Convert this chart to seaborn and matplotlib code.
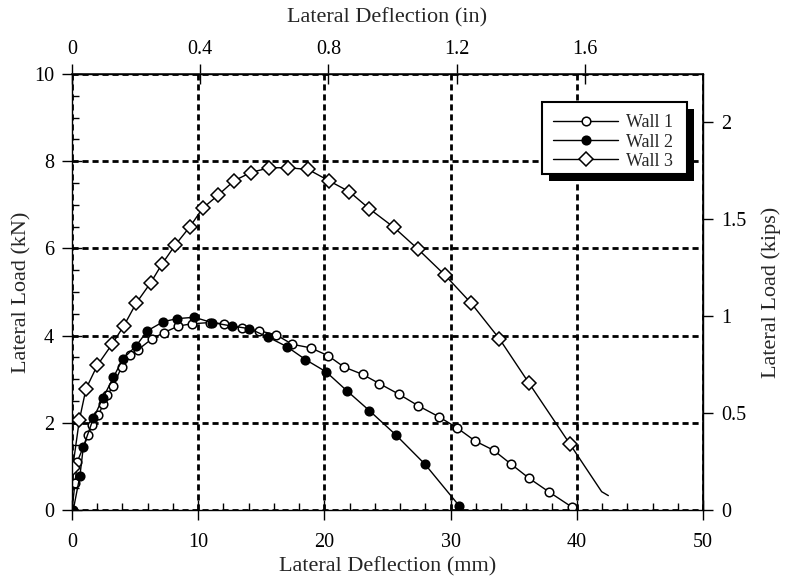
import matplotlib
matplotlib.use("Agg")
import matplotlib.pyplot as plt
from matplotlib.patches import Rectangle
from matplotlib.ticker import MultipleLocator, FixedLocator
import seaborn as sns

# ---- data (mm, kN) ----
wall1_x = [0.0, 0.24, 0.42, 1.29, 1.61, 2.09, 2.48, 2.80, 3.28, 3.94, 4.60, 5.20, 6.31, 7.29,
           8.43, 9.48, 10.94, 12.04, 13.44, 14.82, 16.16, 17.46, 18.90, 20.29, 21.55, 23.03,
           24.35, 25.94, 27.44, 29.06, 30.48, 31.96, 33.41, 34.76, 36.21, 37.82, 39.65]
wall1_y = [0.0, 0.63, 1.11, 1.72, 1.95, 2.18, 2.42, 2.64, 2.85, 3.29, 3.56, 3.67, 3.92, 4.07,
           4.22, 4.27, 4.30, 4.27, 4.17, 4.11, 4.02, 3.80, 3.72, 3.54, 3.28, 3.11,
           2.90, 2.65, 2.39, 2.14, 1.89, 1.58, 1.37, 1.06, 0.73, 0.41, 0.06]

wall2_x = [0.10, 0.63, 0.90, 1.69, 2.43, 3.28, 4.01, 5.07, 5.97, 7.24, 8.35, 9.69, 11.07,
           12.65, 14.05, 15.50, 17.01, 18.50, 20.13, 21.76, 23.56, 25.67, 27.97, 30.67]
wall2_y = [0.00, 0.79, 1.45, 2.10, 2.56, 3.04, 3.46, 3.76, 4.11, 4.32, 4.39, 4.42, 4.30,
           4.22, 4.16, 3.97, 3.75, 3.45, 3.17, 2.74, 2.28, 1.72, 1.05, 0.10]

wall3_x = [0.0, 0.05, 0.58, 1.11, 2.01, 3.17, 4.12, 5.10, 6.23, 7.13, 8.16, 9.35, 10.35,
           11.57, 12.84, 14.16, 15.64, 17.12, 18.72, 20.37, 21.98, 23.56, 25.52, 27.39,
           29.58, 31.64, 33.86, 36.21, 39.46, 41.97, 42.50]
wall3_y = [0.0, 0.96, 2.06, 2.78, 3.32, 3.80, 4.23, 4.75, 5.21, 5.64, 6.07, 6.50, 6.92,
           7.22, 7.55, 7.74, 7.85, 7.85, 7.81, 7.55, 7.30, 6.91, 6.48, 5.99,
           5.38, 4.74, 3.93, 2.91, 1.51, 0.42, 0.33]

labels = ["Wall 1", "Wall 2", "Wall 3"]
x_ticks_in = [0, 0.4, 0.8, 1.2, 1.6]
y_ticks_kips = [0, 0.5, 1, 1.5, 2]

sns.set_theme(style="white")
plt.rcParams['font.family'] = ['Liberation Serif', 'DejaVu Serif']

W, H = 785, 579
fig = plt.figure(figsize=(W / 100, H / 100), dpi=100)
ax = fig.add_axes([72 / W, 69 / H, 631 / W, 436 / H])

common = dict(color="black", linewidth=1.0, markeredgecolor="black",
              markeredgewidth=1.1, sort=False, estimator=None, ax=ax)
sns.lineplot(x=wall1_x, y=wall1_y, marker="o", markersize=6.2, markerfacecolor="white",
             markevery=list(range(1, len(wall1_x))), label=labels[0], **common)
sns.lineplot(x=wall2_x, y=wall2_y, marker="o", markersize=6.2, markerfacecolor="black",
             label=labels[1], **common)
sns.lineplot(x=wall3_x, y=wall3_y, marker="D", markersize=7.0, markerfacecolor="white",
             markevery=list(range(1, len(wall3_x) - 2)), label=labels[2], **common)

ax.set_xlim(0, 50)
ax.set_ylim(0, 10)
ax.xaxis.set_major_locator(MultipleLocator(10))
ax.xaxis.set_minor_locator(MultipleLocator(2))
ax.yaxis.set_major_locator(MultipleLocator(2))
ax.yaxis.set_minor_locator(MultipleLocator(0.5))

ax.grid(True, which="major", color="black", linewidth=2.0, linestyle=(0, (2.2, 1.4)))
ax.set_axisbelow(True)
for s in ax.spines.values():
    s.set_color("black")
    s.set_linewidth(1.0)

ax.tick_params(which="major", direction="inout", length=14, width=1.0, colors="black",
               labelsize=14.5, left=True, bottom=True, pad=6)
ax.tick_params(which="minor", direction="in", length=5, width=1.0, colors="black",
               left=True, bottom=True)
ax.tick_params(axis="x", which="major", pad=9.5)

ax.set_xlabel("Lateral Deflection (mm)", fontsize=16, labelpad=4)
ax.set_ylabel("Lateral Load (kN)", fontsize=16, labelpad=1.5)

# top axis (inches)
top = ax.secondary_xaxis("top", functions=(lambda v: v / 25.4, lambda v: v * 25.4))
top.xaxis.set_major_locator(FixedLocator(x_ticks_in))
top.set_xticklabels([f"{t:g}" for t in x_ticks_in])
top.tick_params(direction="inout", length=14, width=1.0, labelsize=14.5, colors="black", pad=4)
top.set_xlabel("Lateral Deflection (in)", fontsize=16, labelpad=12.5)

# right axis (kips)
right = ax.secondary_yaxis("right", functions=(lambda v: v / 4.448, lambda v: v * 4.448))
right.yaxis.set_major_locator(FixedLocator(y_ticks_kips))
right.set_yticklabels([f"{t:g}" for t in y_ticks_kips])
right.tick_params(direction="out", length=7, width=1.0, labelsize=14.5, colors="black", pad=6)
right.set_ylabel("Lateral Load (kips)", fontsize=16, labelpad=11)

# legend box with solid drop shadow (axes fraction coordinates)
bx0, bx1 = (542 - 72) / 631, (687 - 72) / 631
by0, by1 = (510 - 174) / 436, (510 - 102) / 436
sdx, sdy = 7 / 631, 7 / 436
ax.add_artist(Rectangle((bx0 + sdx, by0 - sdy), bx1 - bx0, by1 - by0, transform=ax.transAxes,
                        facecolor="black", edgecolor="none", zorder=5.8, clip_on=False))
ax.add_artist(Rectangle((bx0, by0), bx1 - bx0, by1 - by0, transform=ax.transAxes,
                        facecolor="white", edgecolor="black", linewidth=1.5, zorder=5.9,
                        clip_on=False))

handles, labs = ax.get_legend_handles_labels()
leg = ax.legend(handles, labs, loc="center left",
                bbox_to_anchor=((553 - 72) / 631, (510 - 142) / 436),
                fontsize=13, frameon=False, handlelength=3.6, handletextpad=0.45,
                borderpad=0, labelspacing=0.12, borderaxespad=0)
leg.set_zorder(6)

fig.savefig("out.png", dpi=100)
